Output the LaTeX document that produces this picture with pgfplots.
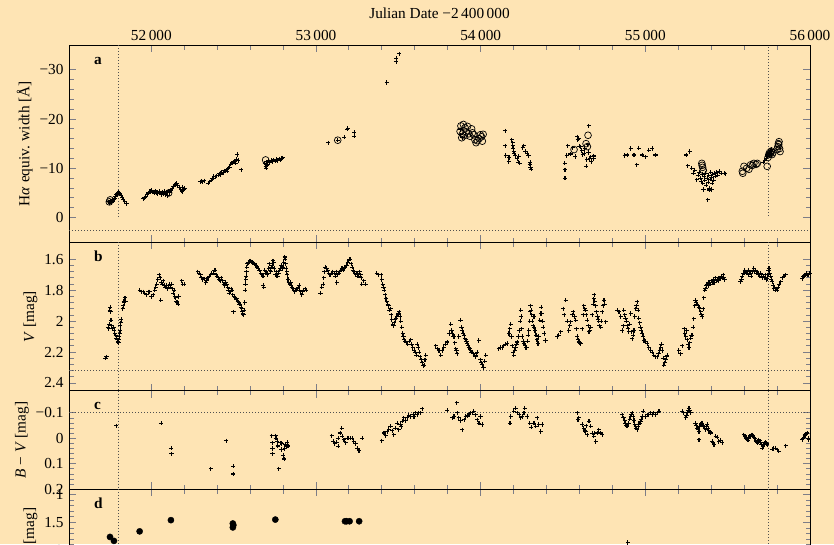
\documentclass[border=0pt]{standalone}
\usepackage{fontspec}
\setmainfont{Liberation Serif}
\usepackage{pgfplots}
\pgfplotsset{compat=1.18}
\definecolor{bg}{RGB}{254,228,180}
\definecolor{tk}{RGB}{125,125,135}
\definecolor{dt}{RGB}{80,80,80}
\pgfplotsset{
  panel/.style={
    scale only axis, width=741pt,
    xmin=51500, xmax=56000,
    font=\fontsize{15.3}{18}\selectfont,
    axis line style={line width=0.9pt,black},
    tick style={tk,line width=0.9pt},
    major tick length=7pt, minor tick length=4.5pt,
    tick align=inside,
    scaled x ticks=false, scaled y ticks=false,
    xtick={52000,53000,54000,55000,56000},
    minor x tick num=4,
    minor y tick num=4,
    xticklabels={},
    y dir=reverse,
    yticklabel style={xshift=-2pt},
    clip=true,
  },
  cross/.style={only marks, mark=+, mark size=2.1pt, line width=1.05pt, black},
  ring/.style={only marks, mark=o, mark size=3.4pt, line width=0.7pt, black},
  dotl/.style={dt, line width=0.9pt, dash pattern=on 0.9pt off 2.1pt},
}
\tikzset{plab/.style={anchor=base west, font=\bfseries\fontsize{15.3}{18}\selectfont, xshift=21.5pt, yshift=-19pt}}
\begin{document}
\begin{tikzpicture}
\fill[bg] (0pt,0pt) rectangle (834pt,-544pt);
\begin{scope}
\clip (0pt,0pt) rectangle (834pt,-544pt);
\node[anchor=base, font=\fontsize{15.3}{18}\selectfont] at (439.5pt,-18.3pt) {Julian Date −2\,400\,000};

% ---------------- panel a ----------------
\begin{axis}[panel, at={(69pt,-45pt)}, anchor=north west, height=197.3pt,
  ymin=-35, ymax=5,
  xticklabel pos=upper,
  xticklabels={52\,000,53\,000,54\,000,55\,000,56\,000},
  xticklabel style={yshift=0.5pt},
  ytick={-30,-20,-10,0}, yticklabels={−30,−20,−10,0},
  ylabel={H\textit{α} equiv. width [Å]}]
\addplot[dotl] coordinates {(51500,2.6) (56000,2.6)};
\addplot[dotl] coordinates {(51800,-35) (51800,0)};
\addplot[dotl] coordinates {(55745,-34.5) (55745,0)};
\addplot[cross] table {
51740 -3.2
51748 -2.9
51752 -3.4
51758 -3.0
51764 -3.3
51770 -3.6
51776 -3.9
51782 -4.3
51788 -4.6
51794 -4.9
51800 -5.1
51806 -5.0
51812 -4.8
51818 -4.4
51824 -4.0
51830 -3.6
51838 -3.2
51850 -2.8
51951 -3.8
51958 -4.0
51966 -4.2
51975 -4.6
51983 -5.0
51992 -5.3
52002 -5.5
52010 -5.2
52018 -5.0
52025 -5.4
52032 -5.1
52040 -4.9
52047 -5.3
52053 -5.0
52060 -4.6
52066 -5.2
52072 -4.8
52080 -5.3
52087 -4.7
52093 -5.1
52100 -4.5
52106 -5.4
52113 -5.1
52120 -5.6
52127 -5.9
52135 -6.3
52142 -6.6
52148 -6.8
52154 -7.0
52160 -6.6
52170 -6.2
52178 -5.8
52184 -5.4
52190 -6.1
52196 -5.7
52204 -5.9
52188 -5.3
52296 -7.3
52304 -7.4
52312 -7.3
52320 -7.5
52346 -7.0
52355 -7.3
52364 -7.6
52372 -7.9
52380 -8.0
52380 -8.4
52388 -8.3
52397 -8.5
52405 -8.6
52412 -8.9
52420 -9.0
52420 -8.7
52428 -9.2
52436 -9.1
52444 -9.5
52452 -9.4
52460 -9.8
52460 -9.4
52468 -10.0
52475 -10.2
52482 -10.8
52490 -11.0
52498 -11.2
52506 -11.5
52512 -11.0
52518 -11.8
52522 -12.8
52528 -11.6
52545 -9.7
52688 -11.0
52694 -10.4
52697 -10.0
52700 -11.3
52702 -10.5
52706 -10.8
52712 -11.5
52720 -11.2
52728 -11.6
52736 -11.4
52744 -11.7
52752 -11.5
52760 -11.8
52768 -11.6
52776 -11.9
52784 -11.7
52792 -12.0
52798 -12.1
53075 -15.2
53132 -15.7
53172 -16.3
53190 -17.9
53194 -18.1
53233 -17.3
53233 -16.5
53429 -27.4
53486 -31.6
53487 -32.3
53506 -33.2
53878 -16.8
53878 -17.8
53890 -16.2
54148 -17.6
54148 -14.6
54152 -12.6
54170 -11.4
54172 -12.2
54190 -15.8
54194 -15.2
54196 -14.6
54198 -14.0
54200 -13.4
54204 -13.0
54210 -12.6
54222 -12.0
54228 -11.2
54232 -12.4
54238 -11.0
54255 -14.2
54262 -14.6
54270 -13.4
54283 -13.0
54290 -12.6
54298 -10.8
54300 -11.2
54303 -10.2
54306 -9.8
54510 -11.0
54512 -9.7
54512 -8.0
54522 -12.6
54530 -14.6
54545 -12.9
54560 -14.2
54575 -12.4
54587 -16.4
54590 -15.8
54595 -16.0
54600 -14.5
54608 -14.4
54615 -13.6
54620 -12.8
54628 -13.0
54632 -14.0
54640 -10.4
54645 -11.8
54650 -14.8
54655 -13.2
54656 -18.6
54662 -12.0
54668 -12.3
54672 -11.4
54688 -12.0
54688 -12.5
54875 -12.6
54891 -12.7
54911 -14.0
54931 -12.7
54947 -10.7
54961 -14.1
54981 -12.7
55001 -12.3
55022 -13.7
55042 -14.0
55062 -12.7
55249 -12.7
55269 -13.4
55257 -10.5
55283 -10.0
55293 -9.0
55300 -9.6
55313 -7.7
55320 -8.6
55328 -9.2
55335 -8.0
55340 -7.4
55345 -8.8
55350 -7.0
55353 -5.7
55358 -8.4
55362 -7.6
55366 -9.0
55370 -6.6
55375 -8.0
55379 -3.6
55382 -7.2
55386 -8.6
55390 -6.0
55390 -5.6
55394 -7.8
55398 -9.2
55402 -8.2
55404 -5.7
55406 -7.0
55410 -8.8
55414 -7.6
55420 -9.0
55426 -8.4
55432 -9.2
55440 -8.6
55448 -9.4
55460 -9.0
55478 -9.0
55486 -8.9
55715 -11.2
55725 -11.6
55735 -12.0
55742 -12.5
55748 -12.9
55752 -13.3
55756 -12.6
55760 -13.6
55764 -13.0
55768 -13.8
};
\addplot[ring] table {
51750 -3.6
51745 -3.2
52105 -5.0
52694 -11.7
53132 -15.7
53875 -17.5
53880 -18.6
53885 -16.2
53890 -17.0
53895 -18.9
53900 -16.6
53905 -18.2
53912 -17.4
53920 -18.5
53928 -17.0
53935 -16.5
53945 -18.0
53950 -17.2
53958 -16.8
53965 -15.8
53972 -15.2
53980 -15.6
53990 -16.0
53998 -16.8
54005 -16.4
54010 -15.5
54015 -16.9
54567 -13.8
54640 -15.0
54648 -14.4
54652 -16.7
55343 -11.0
55345 -10.6
55348 -10.2
55352 -9.6
55589 -9.4
55592 -9.0
55599 -10.4
55615 -10.0
55629 -9.8
55639 -10.7
55650 -10.6
55659 -11.0
55672 -10.8
55680 -11.0
55740 -10.4
55745 -12.2
55750 -12.8
55755 -13.2
55760 -13.0
55765 -13.5
55770 -12.8
55775 -13.2
55800 -13.8
55805 -14.4
55808 -15.0
55810 -14.8
55812 -15.4
55815 -14.0
55818 -13.4
};
\node[plab] at (axis description cs:0,1) {a};
\end{axis}

% ---------------- panel b ----------------
\begin{axis}[panel, at={(69pt,-242.3pt)}, anchor=north west, height=148.4pt,
  ymin=1.49, ymax=2.45,
  ytick={1.6,1.8,2,2.2,2.4}, yticklabels={1.6,1.8,2,2.2,2.4},
  ylabel={\textit{V} [mag]}]
\addplot[dotl] coordinates {(51500,2.32) (56000,2.32)};
\addplot[dotl] coordinates {(51800,1.49) (51800,2.45)};
\addplot[dotl] coordinates {(55745,1.49) (55745,2.45)};
\addplot[cross] table {
51722 2.24
51728 2.23
51739 2.04
51742 2.05
51744 2.02
51747 1.93
51750 1.91
51752 1.94
51755 1.995
51760 2.03
51765 2.05
51770 2.04
51774 2.06
51778 2.08
51783 2.09
51788 2.11
51793 2.12
51797 2.135
51800 2.14
51803 2.12
51806 2.10
51808 2.08
51810 2.06
51812 2.03
51814 2.01
51816 1.99
51826 1.92
51830 1.90
51833 1.87
51836 1.88
51840 1.85
51843 1.87
51931 1.80
51941 1.81
51951 1.81
51961 1.82
51971 1.83
51981 1.81
51991 1.81
52001 1.84
52012 1.83
52020 1.80
52027 1.78
52032 1.76
52040 1.73
52048 1.70
52053 1.72
52058 1.865
52062 1.75
52068 1.76
52072 1.74
52078 1.77
52085 1.78
52092 1.77
52100 1.79
52106 1.78
52112 1.76
52118 1.78
52123 1.76
52128 1.79
52133 1.82
52138 1.80
52143 1.84
52148 1.85
52153 1.876
52158 1.88
52163 1.89
52167 1.84
52184 1.74
52190 1.76
52200 1.76
52283 1.68
52290 1.69
52298 1.70
52305 1.72
52313 1.73
52323 1.725
52330 1.75
52336 1.74
52344 1.72
52352 1.71
52360 1.70
52368 1.69
52378 1.69
52383 1.67
52388 1.67
52394 1.70
52400 1.71
52407 1.72
52413 1.73
52419 1.74
52425 1.72
52432 1.74
52440 1.76
52447 1.77
52453 1.75
52459 1.76
52464 1.78
52469 1.80
52474 1.82
52479 1.81
52485 1.79
52490 1.80
52494 1.83
52499 1.94
52504 1.84
52510 1.85
52515 1.86
52520 1.855
52525 1.87
52530 1.88
52535 1.89
52540 1.89
52545 1.91
52550 1.92
52553 1.94
52556 1.95
52560 1.96
52564 1.93
52567 1.88
52570 1.80
52572 1.76
52574 1.73
52576 1.71
52578 1.68
52580 1.65
52584 1.63
52590 1.62
52597 1.61
52604 1.61
52610 1.615
52617 1.62
52624 1.63
52630 1.635
52637 1.64
52644 1.65
52650 1.66
52657 1.67
52664 1.69
52670 1.70
52678 1.71
52680 1.77
52682 1.78
52688 1.67
52693 1.69
52698 1.68
52703 1.70
52708 1.69
52713 1.66
52718 1.63
52722 1.67
52726 1.68
52730 1.65
52735 1.64
52739 1.61
52743 1.62
52747 1.66
52752 1.70
52758 1.68
52763 1.71
52769 1.71
52774 1.69
52779 1.67
52784 1.66
52790 1.64
52795 1.66
52800 1.65
52805 1.62
52810 1.585
52813 1.60
52816 1.63
52820 1.66
52823 1.68
52826 1.70
52830 1.73
52835 1.75
52840 1.76
52846 1.75
52850 1.77
52855 1.78
52860 1.79
52866 1.80
52872 1.81
52877 1.80
52880 1.80
52886 1.79
52892 1.78
52897 1.77
52902 1.80
52908 1.81
52914 1.83
52920 1.81
52926 1.80
52934 1.79
52941 1.80
53027 1.82
53035 1.78
53043 1.76
53048 1.72
53052 1.68
53057 1.65
53064 1.66
53071 1.67
53078 1.69
53085 1.70
53092 1.69
53097 1.69
53103 1.68
53110 1.69
53116 1.71
53122 1.68
53127 1.75
53132 1.70
53138 1.69
53144 1.68
53150 1.67
53158 1.66
53165 1.67
53172 1.66
53178 1.65
53185 1.64
53192 1.62
53198 1.61
53204 1.60
53208 1.60
53214 1.63
53220 1.65
53225 1.67
53229 1.68
53236 1.69
53242 1.70
53249 1.69
53254 1.71
53259 1.71
53265 1.68
53270 1.70
53275 1.72
53279 1.76
53290 1.74
53300 1.76
53369 1.69
53380 1.70
53395 1.70
53400 1.73
53405 1.76
53410 1.78
53415 1.80
53420 1.83
53425 1.855
53430 1.87
53435 1.89
53440 1.90
53446 1.93
53452 1.92
53456 1.96
53460 1.99
53466 2.02
53471 2.03
53476 2.01
53481 1.99
53486 1.98
53491 1.97
53496 1.96
53501 1.95
53506 1.94
53511 1.97
53516 2.00
53521 2.04
53526 2.08
53531 2.10
53536 2.12
53542 2.13
53548 2.14
53557 2.15
53566 2.13
53575 2.12
53581 2.15
53587 2.17
53597 2.19
53604 2.20
53610 2.22
53615 2.15
53620 2.17
53626 2.20
53632 2.23
53638 2.25
53645 2.27
53652 2.29
53656 2.285
53662 2.25
53666 2.22
53727 2.16
53737 2.18
53747 2.19
53757 2.22
53767 2.19
53777 2.17
53787 2.15
53797 2.135
53808 2.08
53818 2.02
53823 2.06
53828 2.08
53833 2.10
53838 2.10
53843 2.14
53848 2.18
53853 2.19
53858 2.21
53868 2.10
53878 1.995
53884 2.04
53889 2.06
53894 2.08
53899 2.09
53904 2.11
53909 2.12
53914 2.13
53919 2.145
53924 2.16
53929 2.17
53934 2.18
53939 2.19
53944 2.20
53949 2.20
53954 2.21
53959 2.21
53964 2.22
53969 2.23
53974 2.22
53979 2.20
53989 2.125
53999 2.25
54004 2.27
54010 2.28
54015 2.30
54020 2.30
54025 2.26
54030 2.22
54111 2.18
54121 2.17
54131 2.17
54141 2.16
54152 2.15
54162 2.145
54172 2.08
54177 2.05
54182 2.02
54187 2.10
54192 2.16
54197 2.20
54202 2.22
54207 2.19
54212 2.17
54217 2.15
54222 2.135
54228 2.10
54233 2.06
54240 2.00
54243 1.93
54246 1.97
54250 2.05
54253 2.10
54258 2.13
54263 2.145
54270 2.16
54275 2.17
54279 2.17
54284 2.13
54288 2.09
54293 2.06
54298 2.00
54301 1.94
54303 1.90
54306 1.93
54310 1.96
54314 2.00
54318 2.03
54324 1.97
54324 2.04
54330 2.06
54336 2.09
54342 2.12
54348 2.145
54354 2.10
54360 1.995
54364 1.95
54368 1.91
54372 1.95
54376 2.00
54380 2.04
54386 2.08
54394 2.125
54465 2.10
54475 2.09
54486 2.07
54502 1.92
54508 1.96
54516 1.865
54526 2.00
54536 2.06
54541 2.03
54546 2.005
54556 1.96
54562 1.94
54570 1.97
54577 1.995
54582 2.05
54587 2.10
54592 2.12
54597 2.135
54602 2.14
54607 2.145
54617 2.05
54622 1.96
54627 1.90
54632 1.92
54637 1.93
54642 1.96
54647 1.995
54652 2.03
54658 2.07
54662 2.06
54668 2.04
54678 1.96
54683 1.89
54688 1.855
54690 1.83
54694 1.87
54699 1.90
54704 1.94
54709 1.97
54713 1.99
54718 2.00
54722 2.03
54729 2.04
54733 2.00
54739 1.94
54744 1.90
54749 1.865
54752 1.89
54759 2.005
54830 1.93
54840 1.94
54850 1.97
54860 2.06
54865 2.03
54870 1.93
54875 1.96
54880 1.98
54885 2.00
54890 2.03
54895 2.05
54900 2.07
54906 2.02
54911 1.95
54916 2.07
54921 2.115
54926 2.09
54931 2.06
54936 1.97
54941 1.92
54946 1.90
54951 1.875
54956 1.93
54961 1.98
54966 2.01
54971 2.04
54976 2.06
54981 2.08
54986 2.10
54992 2.125
55002 2.13
55012 2.145
55022 2.17
55032 2.19
55042 2.20
55052 2.22
55062 2.23
55073 2.23
55080 2.21
55088 2.19
55093 2.17
55098 2.15
55103 2.19
55108 2.24
55113 2.285
55118 2.27
55123 2.25
55128 2.23
55133 2.22
55204 2.19
55214 2.21
55225 2.16
55235 2.05
55240 2.08
55245 2.10
55250 2.06
55255 2.12
55260 2.15
55265 2.17
55270 2.14
55275 2.11
55280 2.09
55285 2.09
55290 2.04
55295 1.985
55300 1.90
55305 1.865
55310 1.88
55316 1.89
55321 1.90
55326 1.91
55331 1.92
55336 1.94
55341 1.96
55346 1.97
55351 1.92
55356 1.85
55360 1.80
55365 1.79
55370 1.77
55376 1.76
55381 1.75
55386 1.77
55391 1.75
55396 1.76
55402 1.74
55407 1.75
55412 1.73
55417 1.75
55422 1.74
55427 1.72
55432 1.74
55437 1.73
55442 1.72
55447 1.74
55452 1.72
55457 1.725
55462 1.71
55467 1.72
55472 1.70
55477 1.715
55482 1.73
55578 1.745
55584 1.73
55589 1.71
55594 1.69
55599 1.69
55604 1.67
55609 1.68
55614 1.69
55619 1.68
55624 1.70
55629 1.67
55634 1.69
55639 1.69
55644 1.71
55649 1.68
55654 1.67
55659 1.66
55664 1.68
55669 1.67
55675 1.69
55680 1.68
55685 1.70
55690 1.69
55695 1.71
55700 1.69
55705 1.70
55710 1.72
55715 1.71
55720 1.71
55725 1.72
55730 1.70
55735 1.73
55740 1.725
55745 1.70
55748 1.67
55751 1.66
55755 1.69
55760 1.71
55765 1.73
55771 1.745
55776 1.77
55781 1.79
55786 1.78
55791 1.80
55796 1.79
55801 1.80
55806 1.78
55812 1.76
55822 1.745
55832 1.72
55842 1.71
55852 1.70
55953 1.725
55960 1.71
55967 1.705
55973 1.70
55980 1.69
55987 1.70
55993 1.70
55998 1.69
};
\node[plab] at (axis description cs:0,1) {b};
\end{axis}

% ---------------- panel c ----------------
\begin{axis}[panel, at={(69pt,-390.7pt)}, anchor=north west, height=98.6pt,
  ymin=-0.187, ymax=0.2,
  ytick={-0.1,0,0.1,0.2}, yticklabels={−0.1,0,0.1,0.2},
  ylabel={\textit{B} − \textit{V} [mag]}]
\addplot[dotl] coordinates {(51500,-0.1) (56000,-0.1)};
\addplot[dotl] coordinates {(51800,-0.187) (51800,0.2)};
\addplot[dotl] coordinates {(55745,-0.187) (55745,0.2)};
\addplot[cross] table {
51787 -0.05
52059 -0.059
52120 0.039
52122 0.06
52362 0.12
52454 0.009
52498 0.11
52498 0.14
52731 -0.01
52736 0.018
52736 0.04
52736 0.06
52754 -0.01
52757 0.0
52764 0.012
52768 0.03
52774 0.12
52784 0.018
52790 0.044
52793 0.02
52800 0.067
52806 0.081
52810 0.04
52815 0.025
52820 0.03
52826 0.016
52830 0.03
53095 -0.01
53105 0.012
53115 0.022
53125 0.015
53135 0.031
53135 0.0
53146 -0.021
53156 -0.04
53160 -0.008
53170 0.005
53180 0.018
53190 -0.001
53200 0.0
53210 0.0
53220 0.0
53230 0.012
53241 0.021
53251 0.039
53261 0.048
53281 0.0
53399 0.009
53413 -0.021
53423 -0.01
53433 -0.027
53443 -0.036
53453 -0.047
53463 -0.03
53473 -0.014
53483 -0.04
53493 -0.06
53503 -0.034
53513 -0.054
53518 -0.045
53523 -0.067
53534 -0.08
53544 -0.07
53554 -0.08
53564 -0.09
53574 -0.086
53590 -0.095
53595 -0.086
53605 -0.1
53615 -0.093
53625 -0.1
53635 -0.1
53646 -0.116
53797 -0.11
53828 -0.08
53838 -0.086
53854 -0.139
53858 -0.1
53868 -0.08
53878 -0.07
53888 -0.034
53899 -0.073
53909 -0.086
53919 -0.09
53929 -0.093
53939 -0.1
53949 -0.1
53959 -0.106
53969 -0.093
53980 -0.073
53990 -0.06
53999 -0.086
54010 -0.054
54178 -0.06
54182 -0.086
54202 -0.106
54212 -0.119
54222 -0.1
54233 -0.093
54243 -0.08
54253 -0.086
54263 -0.1
54268 -0.119
54283 -0.086
54299 -0.06
54307 -0.044
54324 -0.06
54334 -0.047
54344 -0.08
54354 -0.054
54364 -0.027
54374 -0.054
54587 -0.1
54591 -0.073
54595 -0.08
54617 -0.054
54627 -0.04
54632 -0.03
54637 -0.027
54642 -0.05
54647 -0.014
54658 -0.067
54668 -0.047
54678 -0.02
54688 -0.008
54693 -0.02
54698 0.012
54708 -0.021
54718 -0.034
54728 -0.021
54738 -0.014
54860 -0.093
54865 -0.08
54870 -0.08
54875 -0.07
54880 -0.06
54885 -0.05
54890 -0.047
54895 -0.06
54900 -0.06
54906 -0.075
54911 -0.086
54916 -0.095
54921 -0.1
54926 -0.086
54931 -0.07
54936 -0.055
54941 -0.047
54946 -0.04
54951 -0.034
54956 -0.045
54961 -0.055
54966 -0.06
54971 -0.067
54976 -0.075
54981 -0.086
54987 -0.106
55002 -0.086
55012 -0.093
55022 -0.093
55032 -0.1
55042 -0.093
55052 -0.1
55062 -0.093
55073 -0.1
55083 -0.106
55224 -0.106
55234 -0.1
55245 -0.08
55250 -0.09
55255 -0.1
55260 -0.11
55265 -0.119
55270 -0.11
55275 -0.1
55305 -0.06
55310 -0.05
55315 -0.04
55320 -0.035
55326 -0.027
55326 0.005
55330 -0.045
55336 -0.055
55341 -0.06
55346 -0.06
55351 -0.05
55356 -0.045
55361 -0.04
55366 -0.034
55371 -0.045
55376 -0.054
55381 -0.04
55386 -0.03
55391 -0.025
55396 -0.021
55406 0.012
55411 0.018
55417 0.025
55427 -0.008
55437 -0.005
55447 0.012
55457 0.008
55467 0.018
55599 -0.014
55604 -0.01
55609 -0.005
55614 0.0
55619 0.005
55624 0.008
55629 0.0
55634 -0.008
55639 -0.01
55644 -0.014
55649 -0.014
55654 -0.01
55659 -0.005
55664 0.0
55670 0.008
55675 0.013
55680 0.018
55685 0.012
55690 0.005
55695 0.01
55700 0.018
55705 0.025
55710 0.038
55715 0.03
55720 0.025
55725 0.02
55730 0.015
55736 0.02
55741 0.025
55771 0.042
55781 0.04
55791 0.038
55801 0.045
55811 0.051
55852 0.029
55953 0.005
55958 0.0
55963 -0.005
55968 -0.01
55973 -0.014
55978 -0.018
55983 -0.021
55988 0.0
55993 0.005
};
\node[plab] at (axis description cs:0,1) {c};
\end{axis}

% ---------------- panel d ----------------
\begin{axis}[panel, at={(69pt,-489.3pt)}, anchor=north west, height=88pt,
  ymin=0.91, ymax=2.48,
  ytick={1,1.5,2}, yticklabels={1,1.5,2},
  ylabel={\textit{K} [mag]}]
\addplot[dotl] coordinates {(51800,0.91) (51800,2.48)};
\addplot[dotl] coordinates {(55745,0.91) (55745,2.48)};
\addplot[only marks, mark=*, mark size=3.1pt, black] table {
51749 1.76
51773 1.83
51929 1.66
52119 1.46
52495 1.52
52495 1.59
52498 1.55
52753 1.45
53176 1.48
53186 1.48
53204 1.48
53262 1.48
};
\addplot[cross] table {
54894 1.86
};
\node[plab] at (axis description cs:0,1) {d};
\end{axis}
\end{scope}
\pgfresetboundingbox
\useasboundingbox (0pt,0pt) rectangle (834pt,-544pt);
\end{tikzpicture}
\end{document}
